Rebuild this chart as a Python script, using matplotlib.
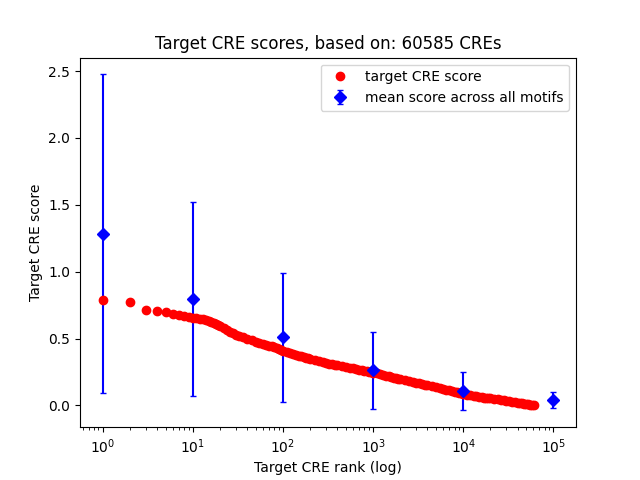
import matplotlib
matplotlib.use("Agg")
import matplotlib.pyplot as plt

n_cres = 60585

# target CRE scores (rank -> score)
ranks = [1, 2, 3, 4, 5, 6, 7, 8, 9, 10,
         11, 12, 13, 14, 15, 16, 17, 18, 19, 20, 22, 24, 26, 28, 30, 33, 36, 40, 45,
         50, 55, 60, 65, 70, 75, 80, 85, 90, 95,
         100, 110, 120, 130, 140, 150, 160, 170, 180, 190, 200, 225, 250, 275, 300,
         325, 350, 375, 400, 450, 500, 550, 600, 650, 700, 750, 800, 850, 900, 950,
         1000, 1100, 1200, 1300, 1400, 1500, 1600, 1700, 1800, 1900, 2000, 2250, 2500,
         2750, 3000, 3250, 3500, 3750, 4000, 4500, 5000, 5500, 6000, 6500, 7000, 7500,
         8000, 8500, 9000, 9500,
         10000, 11000, 12000, 13000, 14000, 15000, 16000, 17000, 18000, 19000, 20000,
         22000, 24000, 26000, 28000, 30000, 32500, 35000, 37500, 40000, 42500, 45000,
         47500, 50000, 52500, 55000, 57500, 60585]
scores = [0.79, 0.775, 0.71, 0.708, 0.695, 0.683, 0.675, 0.668, 0.662, 0.657,
          0.652, 0.648, 0.643, 0.638, 0.632, 0.625, 0.617, 0.608, 0.6, 0.592, 0.577, 0.563, 0.55, 0.54, 0.53, 0.52, 0.51, 0.5, 0.488,
          0.478, 0.47, 0.462, 0.455, 0.448, 0.441, 0.435, 0.428, 0.42, 0.412,
          0.405, 0.397, 0.39, 0.384, 0.378, 0.372, 0.366, 0.361, 0.356, 0.352, 0.348, 0.339, 0.33, 0.324, 0.318,
          0.313, 0.308, 0.304, 0.3, 0.293, 0.287, 0.282, 0.277, 0.272, 0.268, 0.264, 0.26, 0.256, 0.253, 0.249,
          0.246, 0.239, 0.233, 0.227, 0.222, 0.217, 0.212, 0.208, 0.204, 0.2, 0.197, 0.19, 0.183,
          0.177, 0.171, 0.166, 0.161, 0.156, 0.152, 0.143, 0.135, 0.129, 0.123, 0.117, 0.112, 0.107,
          0.102, 0.098, 0.094, 0.09,
          0.086, 0.081, 0.076, 0.072, 0.068, 0.065, 0.062, 0.059, 0.056, 0.054, 0.052,
          0.048, 0.045, 0.042, 0.038, 0.035, 0.031, 0.028, 0.025, 0.022, 0.019, 0.016,
          0.013, 0.011, 0.009, 0.006, 0.004, 0.002]

# mean score across all motifs, with spread
mean_ranks = [1, 10, 100, 1000, 10000, 100000]
mean_scores = [1.285, 0.793, 0.51, 0.262, 0.105, 0.043]
mean_err = [1.19, 0.725, 0.483, 0.285, 0.142, 0.06]

fig, ax = plt.subplots(figsize=(6.4, 4.8), dpi=100)

ax.errorbar(mean_ranks, mean_scores, yerr=mean_err, fmt="bD", capsize=2,
            label="mean score across all motifs")
ax.plot(ranks, scores, "ro", label="target CRE score")

ax.set_xscale("log")
ax.set_xlabel("Target CRE rank (log)")
ax.set_ylabel("Target CRE score")
ax.set_title(f"Target CRE scores, based on: {n_cres} CREs")
ax.legend(loc="upper right")
fig.savefig("out.png")
